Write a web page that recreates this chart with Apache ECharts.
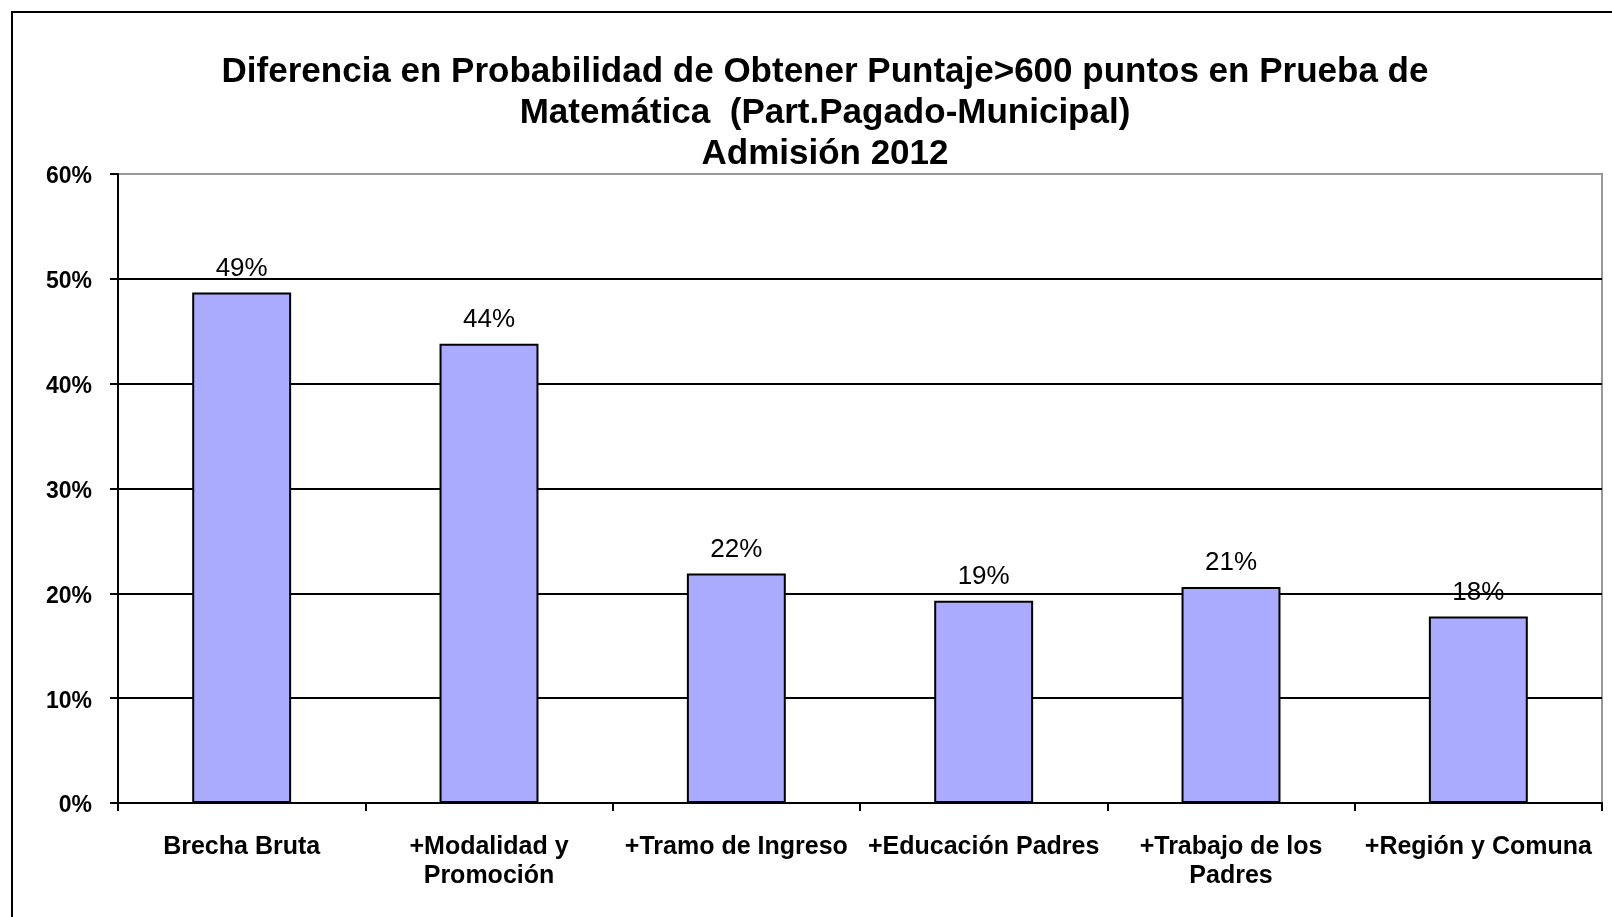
<!DOCTYPE html>
<html>
<head>
<meta charset="utf-8">
<script src="https://cdn.jsdelivr.net/npm/echarts@6/dist/echarts.min.js"></script>
<style>
html, body { margin: 0; padding: 0; background: #fff; }
#chart { width: 1612px; height: 917px; }
</style>
</head>
<body>
<div id="chart"></div>
<script>
var categories = ['Brecha Bruta', '+Modalidad y\nPromoción', '+Tramo de Ingreso', '+Educación Padres', '+Trabajo de los\nPadres', '+Región y Comuna'];
var values = [48.7, 43.8, 21.9, 19.3, 20.6, 17.8];
var yTicks = [0, 10, 20, 30, 40, 50, 60];

var myChart = echarts.init(document.getElementById('chart'));
var option = {
    backgroundColor: '#fff',
    animation: false,
    title: {
        text: 'Diferencia en Probabilidad de Obtener Puntaje>600 puntos en Prueba de\nMatemática  (Part.Pagado-Municipal)\nAdmisión 2012',
        left: 820,
        top: 47,
        textAlign: 'center',
        textStyle: {
            fontFamily: 'Liberation Sans, Arial, sans-serif',
            fontSize: 35,
            fontWeight: 'bold',
            color: '#000',
            lineHeight: 41
        }
    },
    graphic: [
        {
            type: 'rect',
            shape: { x: 12, y: 12, width: 1640, height: 950 },
            style: { fill: 'none', stroke: '#000', lineWidth: 2 },
            silent: true
        }
    ],
    grid: {
        left: 118,
        top: 174,
        right: 10,
        bottom: 114,
        show: true,
        borderColor: '#999',
        borderWidth: 2,
        backgroundColor: 'transparent'
    },
    xAxis: {
        type: 'category',
        data: categories,
        axisLine: { lineStyle: { color: '#000', width: 2 } },
        axisTick: { show: true, length: 8, lineStyle: { color: '#000', width: 2 } },
        axisLabel: {
            interval: 0,
            margin: 30,
            fontFamily: 'Liberation Sans, Arial, sans-serif',
            fontSize: 25,
            fontWeight: 'bold',
            color: '#000',
            lineHeight: 29
        }
    },
    yAxis: {
        type: 'value',
        min: yTicks[0],
        max: yTicks[yTicks.length - 1],
        interval: 10,
        axisLine: { show: true, lineStyle: { color: '#000', width: 2 } },
        axisTick: { show: true, length: 8, lineStyle: { color: '#000', width: 2 } },
        axisLabel: {
            margin: 26,
            verticalAlign: 'top',
            lineHeight: 6,
            fontFamily: 'Liberation Sans, Arial, sans-serif',
            fontSize: 23,
            fontWeight: 'bold',
            color: '#000',
            formatter: '{value}%'
        },
        splitLine: { show: true, showMaxLine: false, lineStyle: { color: '#000', width: 2 } }
    },
    series: [
        {
            type: 'bar',
            data: values,
            barWidth: '40%',
            itemStyle: { color: '#AAAAFF', borderColor: '#000', borderWidth: 2 },
            label: {
                show: true,
                position: 'top',
                distance: 11,
                fontFamily: 'Liberation Sans, Arial, sans-serif',
                fontSize: 26,
                color: '#000',
                formatter: function (p) { return Math.round(p.value) + '%'; }
            }
        }
    ]
};
myChart.setOption(option);
</script>
</body>
</html>
